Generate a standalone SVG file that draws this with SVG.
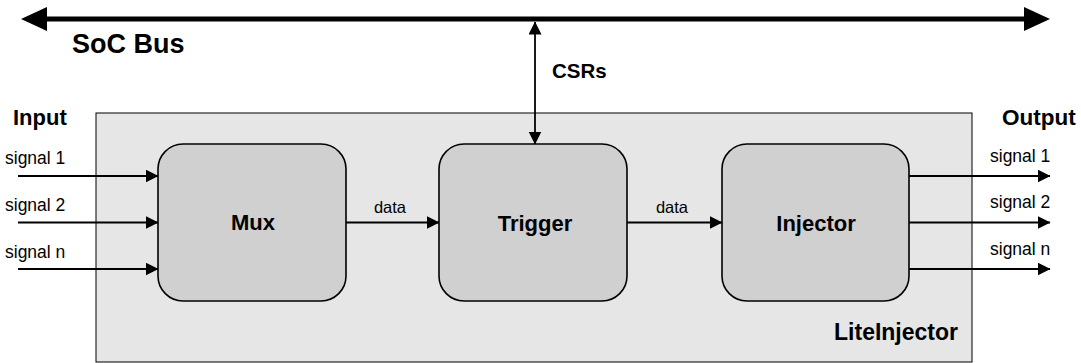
<svg xmlns="http://www.w3.org/2000/svg" width="1081" height="363" viewBox="0 0 1081 363">
<style>
.lbl{font-family:"Liberation Sans",Arial,sans-serif;fill:#000}
.b{font-weight:bold}
.blk{fill:#d0d0d0;stroke:#000;stroke-width:1.6}
.wire{stroke:#000;stroke-width:1.8;fill:none}
.bus{stroke:#000;stroke-width:5;fill:none}
</style>
<defs>
<marker id="ah" markerUnits="userSpaceOnUse" viewBox="0 0 13 13" markerWidth="13" markerHeight="13" refX="12.5" refY="6.5" orient="auto-start-reverse">
<path d="M0,0 L13,6.5 L0,13 z" fill="#000"/>
</marker>
<marker id="bh" markerUnits="userSpaceOnUse" viewBox="0 0 26 24" markerWidth="26" markerHeight="24" refX="1" refY="12" orient="auto-start-reverse">
<path d="M0,0 L26,12 L0,24 z" fill="#000"/>
</marker>
</defs>
<g id="container">
<rect x="96" y="113" width="876" height="249" fill="#e6e6e6" stroke="#000" stroke-width="1"/>
<text class="lbl b" x="958" y="340" font-size="23" text-anchor="end">LiteInjector</text>
</g>
<g id="soc-bus">
<text class="lbl b" x="72" y="53" font-size="27">SoC Bus</text>
</g>
<g id="mux">
<rect class="blk" x="158" y="144" width="188" height="157" rx="25" ry="25"/>
<text class="lbl b" x="253" y="230" font-size="22" text-anchor="middle">Mux</text>
</g>
<g id="trigger">
<rect class="blk" x="439" y="144" width="188" height="157" rx="25" ry="25"/>
<text class="lbl b" x="535" y="231" font-size="22" text-anchor="middle">Trigger</text>
</g>
<g id="injector">
<rect class="blk" x="722" y="144" width="187" height="157" rx="25" ry="25"/>
<text class="lbl b" x="816" y="231" font-size="22" text-anchor="middle">Injector</text>
</g>
<g id="labels">
<text class="lbl b" x="13" y="125" font-size="22">Input</text>
<text class="lbl b" x="1002" y="125" font-size="22.5">Output</text>
<text class="lbl b" x="552" y="78" font-size="20.5">CSRs</text>
<text class="lbl" x="5" y="164" font-size="17.5">signal 1</text>
<text class="lbl" x="5" y="211" font-size="17.5">signal 2</text>
<text class="lbl" x="5" y="258" font-size="17.5">signal n</text>
<text class="lbl" x="990" y="162" font-size="17.5">signal 1</text>
<text class="lbl" x="990" y="208" font-size="17.5">signal 2</text>
<text class="lbl" x="990" y="255" font-size="17.5">signal n</text>
<text class="lbl" x="390" y="213" font-size="16.5" text-anchor="middle">data</text>
<text class="lbl" x="672" y="213" font-size="16.5" text-anchor="middle">data</text>
</g>
<g id="connectors">
<line class="bus" x1="46" y1="19" x2="1025" y2="19" marker-start="url(#bh)" marker-end="url(#bh)"/>
<line class="wire" x1="535" y1="22" x2="535" y2="144" marker-start="url(#ah)" marker-end="url(#ah)"/>
<line class="wire" x1="18" y1="176" x2="158" y2="176" marker-end="url(#ah)"/>
<line class="wire" x1="18" y1="222.5" x2="158" y2="222.5" marker-end="url(#ah)"/>
<line class="wire" x1="18" y1="269" x2="158" y2="269" marker-end="url(#ah)"/>
<line class="wire" x1="346" y1="222.5" x2="439" y2="222.5" marker-end="url(#ah)"/>
<line class="wire" x1="627" y1="222.5" x2="722" y2="222.5" marker-end="url(#ah)"/>
<line class="wire" x1="909" y1="176" x2="1050" y2="176" marker-end="url(#ah)"/>
<line class="wire" x1="909" y1="222.5" x2="1050" y2="222.5" marker-end="url(#ah)"/>
<line class="wire" x1="909" y1="269" x2="1050" y2="269" marker-end="url(#ah)"/>
</g>
</svg>
